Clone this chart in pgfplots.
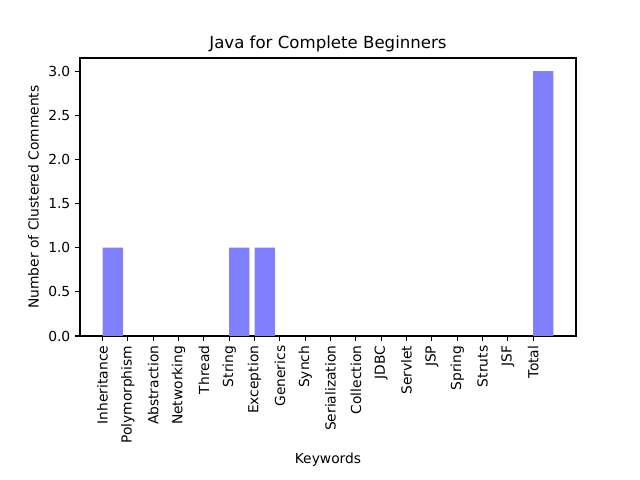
\documentclass[border=0pt]{standalone}
\usepackage{pgfplots}
\pgfplotsset{compat=1.18}
\usepackage{fontspec}
\setmainfont{DejaVu Sans}
\definecolor{barblue}{HTML}{8080FF}

\pgfplotstableread{
x y
0 1
1 0
2 0
3 0
4 0
5 1
6 1
7 0
8 0
9 0
10 0
11 0
12 0
13 0
14 0
15 0
16 0
17 3
}\counts

\begin{document}
\begin{tikzpicture}[x=1in,y=1in]
\path (0,0) rectangle (6.4,4.8);
\begin{axis}[
    at={(0.8in,1.44in)},
    anchor=south west,
    scale only axis,
    width=4.96in, height=2.78in,
    xmin=-0.89, xmax=18.69,
    ymin=0, ymax=3.15,
    xtick={0,...,17},
    xticklabels={Inheritance,Polymorphism,Abstraction,Networking,Thread,String,Exception,Generics,Synch,Serialization,Collection,JDBC,Servlet,JSP,Spring,Struts,JSF,Total},
    xticklabel style={rotate=90, anchor=east, font=\fontsize{10}{12}\selectfont},
    ytick={0,0.5,...,3.0},
    yticklabel style={font=\fontsize{10}{12}\selectfont, /pgf/number format/fixed, /pgf/number format/fixed zerofill, /pgf/number format/precision=1},
    /pgf/number format/assume math mode=true,
    tick align=outside,
    major tick length=3.5pt,
    tick style={black, line width=0.8pt},
    axis line style={line width=0.8pt},
    xtick pos=bottom, ytick pos=left,
    title={Java for Complete Beginners},
    title style={font=\fontsize{12}{14}\selectfont, at={(0.5,1)}, anchor=south, yshift=-5pt},
    xlabel={Keywords},
    ylabel={Number of Clustered Comments},
    label style={font=\fontsize{10}{12}\selectfont},
]
\addplot[ybar, bar width=0.8, bar shift=0.4, fill=barblue, draw=none] table[x=x,y=y] {\counts};
\end{axis}
\end{tikzpicture}
\end{document}
